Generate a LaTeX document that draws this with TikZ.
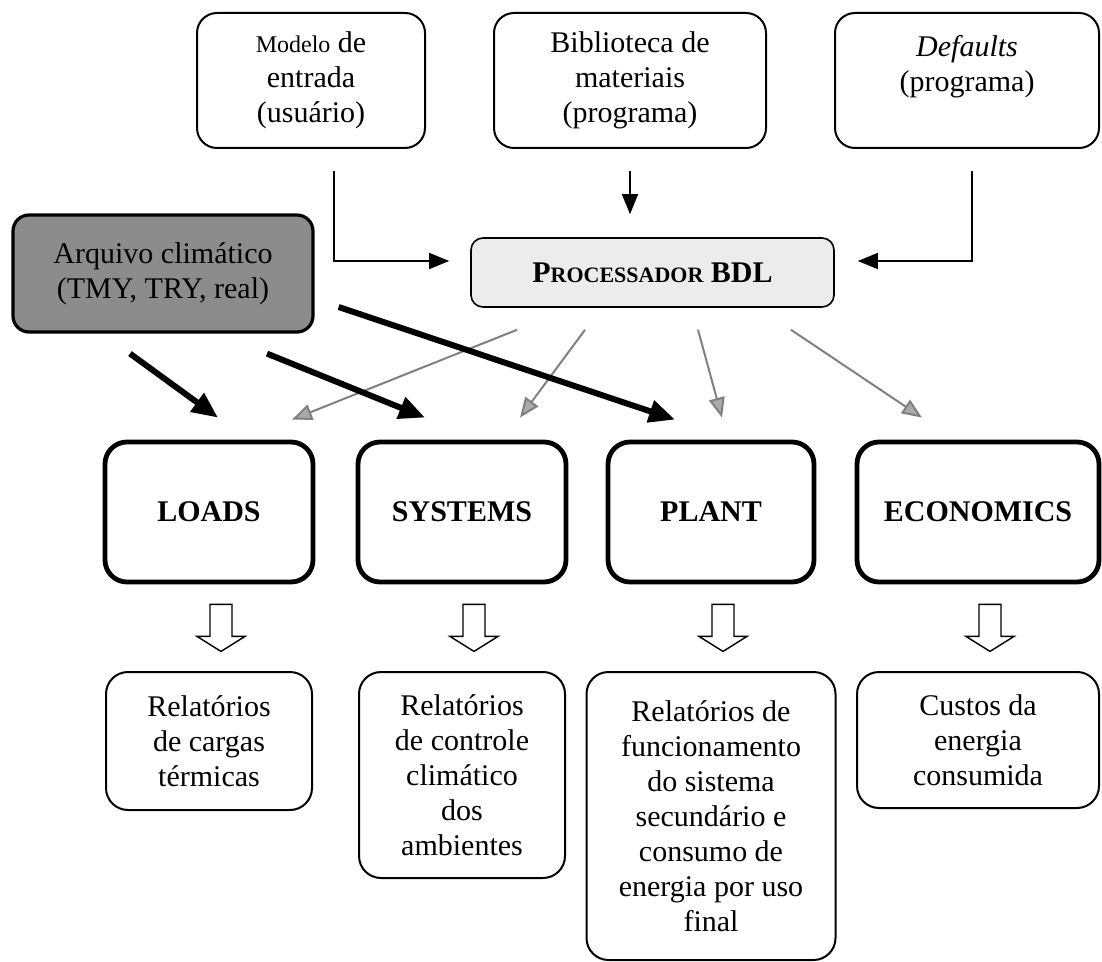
\documentclass[tikz,border=0pt]{standalone}
\usepackage{fontspec}
\setmainfont{Liberation Serif}
\usetikzlibrary{positioning,calc,arrows.meta}

\definecolor{climgray}{RGB}{140,140,140}
\definecolor{procgray}{RGB}{236,236,236}
\definecolor{tipgray}{RGB}{170,170,170}

% hollow down arrow under a module box
\newcommand{\outarrow}[1]{%
  \draw[line width=0.7pt] ($(#1.south)+(1,20)$) -- ++(0,32) -- ++(-13,0) -- ++(24,15)
    -- ++(24,-15) -- ++(-13,0) -- ++(0,-32) -- cycle;}

\begin{document}
\begin{tikzpicture}[x=0.5pt,y=-0.5pt,
    every node/.style={font=\fontsize{15}{17.5}\selectfont, align=center},
    inbox/.style={draw, line width=1pt, rounded corners=10pt, minimum height=67.5pt},
    modbox/.style={draw, line width=2.4pt, rounded corners=11pt, minimum width=104pt,
        minimum height=70pt, font=\fontsize{15}{17.5}\selectfont\bfseries},
    outbox/.style={draw, line width=1pt, rounded corners=11pt, minimum width=103pt},
    feed/.style={line width=0.7pt, -{Triangle[length=10pt,width=8pt]}},
    clim/.style={line width=3pt, -{Triangle[length=13pt,width=11pt]}},
    spread/.style={line width=1pt, draw=gray, -{Triangle[length=10pt,width=8pt,fill=tipgray]}}]

    \useasboundingbox (0,0) rectangle (1102,962);

    % inputs
    \node [inbox, minimum width=136pt] (bib) at (630,80.5) {Biblioteca de\\materiais\\(programa)};
    \node [inbox, minimum width=114pt] (modelo) [left=33.5pt of bib] {{\fontsize{12}{17.5}\selectfont Modelo} de\\entrada\\(usuário)};
    \node [inbox, minimum width=132pt] (defaults) [right=33.5pt of bib] {\textit{Defaults}\\(programa)\\~};

    \node [draw, fill=procgray, line width=0.8pt, rounded corners=6pt, minimum width=181.5pt,
        minimum height=34.5pt] (proc) at (652.5,272.5)
        {\bfseries P{\fontsize{11}{13}\selectfont ROCESSADOR} BDL};
    \node [draw, fill=climgray, line width=1.6pt, rounded corners=8pt, minimum width=150pt,
        minimum height=58.5pt] (arq) at (163,273.5) {Arquivo climático\\(TMY, TRY, real)};

    % modules
    \node [modbox] (loads) at (209,512) {LOADS};
    \node [modbox] (systems) [right=20.1pt of loads] {SYSTEMS};
    \node [modbox, minimum width=103pt] (plant) [right=18.6pt of systems] {PLANT};
    \node [modbox, minimum width=121pt] (econ) [right=19.1pt of plant] {ECONOMICS};

    % reports
    \node [outbox, minimum height=69pt] (rel1) [below=43.3pt of loads] {Relatórios\\de cargas\\térmicas};
    \node [outbox, minimum height=103pt] (rel2) [below=43.3pt of systems] {Relatórios\\de controle\\climático\\dos\\ambientes};
    \node [outbox, minimum width=124.5pt, minimum height=144pt] (rel3) [below=43.3pt of plant]
        {Relatórios de\\funcionamento\\do sistema\\secundário e\\consumo de\\energia por uso\\final};
    \node [outbox, minimum width=121pt, minimum height=68pt] (rel4) [below=43.3pt of econ] {Custos da\\energia\\consumida};

    \draw [feed, shorten <=11pt, shorten >=10.5pt] ([xshift=11.5pt]modelo.south) |- ([yshift=5.75pt]proc.west);
    \draw [feed, shorten <=11pt, shorten >=11.5pt] (bib.south) -- (bib.south |- proc.north);
    \draw [feed, shorten <=11pt, shorten >=11.5pt] ([xshift=2.5pt]defaults.south) |- ([yshift=5.75pt]proc.east);

    \draw [spread] ($(proc.south)+(-135.5,22)$) -- ($(loads.north)+(83,-20)$);
    \draw [spread] ($(proc.south)+(-67.5,22)$) -- ($(systems.north)+(58,-22)$);
    \draw [spread] ($(proc.south)+(45.5,22)$) -- ($(plant.north)+(11,-22)$);
    \draw [spread] ($(proc.south)+(138.5,22)$) -- ($(econ.north)+(-56,-22)$);

    \draw [clim] ($(arq.south)+(-33,20)$) -- ($(loads.north)+(9,-22)$);
    \draw [clim] ($(arq.south)+(104,20)$) -- ($(systems.north)+(-37,-22)$);
    \draw [clim] ($(arq.east)+(24,33.5)$) -- ($(plant.north)+(-36,-20)$);

    \outarrow{loads}
    \outarrow{systems}
    \outarrow{plant}
    \outarrow{econ}
\end{tikzpicture}
\end{document}
